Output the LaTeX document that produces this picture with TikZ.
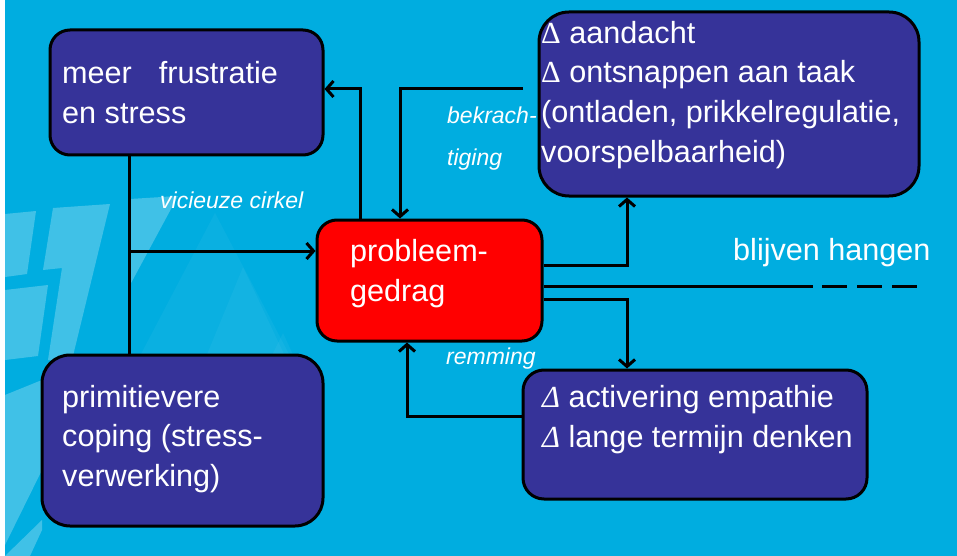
\documentclass[tikz,border=0pt]{standalone}
\usepackage{fontspec}
\setmainfont{Liberation Sans}
\newfontfamily\deltafont{Liberation Serif}
\usetikzlibrary{arrows.meta}

\definecolor{bgblue}{RGB}{0,173,224}
\definecolor{boxblue}{RGB}{54,51,153}
\definecolor{alarmred}{RGB}{255,0,0}

\tikzset{
  box/.style={draw=black, line width=3pt, rectangle, inner sep=0pt},
  bodytext/.style={text=white, align=left, inner sep=0pt, anchor=north west,
    font=\fontsize{30.6}{#1}\selectfont},
  bodytext/.default=40,
  sidelabel/.style={text=white, inner sep=0pt, anchor=base west,
    font=\fontsize{23}{28}\selectfont\itshape},
  link/.style={draw=black, line width=3pt},
  arr/.style={link, -{Straight Barb[length=7pt,width=16pt]}},
  streak/.style={fill=white, fill opacity=0.25, draw=none},
  peak/.style={fill=white, fill opacity=0.04, draw=none}
}

\begin{document}
\begin{tikzpicture}[x=1pt,y=-1pt]
\useasboundingbox (0,0) rectangle (957,556);
\fill[white] (0,0) rectangle (957,556);
\fill[bgblue] (5,0) rectangle (957,556);

% faint logo streaks in the lower left
\fill[streak] (5,214) -- (36,211) -- (27,274) -- (5,277) -- cycle;
\fill[streak] (53,208) -- (110,204) -- (72,360) -- (48,360) -- (62,268) -- (43,270) -- cycle;
\fill[streak] (130,199) -- (178,196) -- (130,285) -- cycle;
\fill[streak] (5,290) -- (48,285) -- (38,356) -- (5,360) -- cycle;
\fill[streak] (5,395) -- (42,380) -- (42,470) -- (5,545) -- cycle;
\fill[streak] (5,556) -- (30,556) -- (42,530) -- (42,520) -- cycle;
\fill[peak] (215,213) -- (290,356) -- (140,356) -- cycle;
\fill[peak] (243,267) -- (315,420) -- (180,420) -- cycle;
\fill[peak] (283,333) -- (323,420) -- (240,420) -- cycle;

% boxes
\node[box, fill=boxblue, rounded corners=20pt, minimum width=273pt, minimum height=125pt] (frus) at (186.5,92.5) {};
\node[box, fill=boxblue, rounded corners=30pt, minimum width=380pt, minimum height=184pt] (bekr) at (729,104) {};
\node[box, fill=alarmred, rounded corners=20pt, minimum width=225pt, minimum height=121pt] (prob) at (429.5,280.5) {};
\node[box, fill=boxblue, rounded corners=28pt, minimum width=281pt, minimum height=171pt] (prim) at (182.5,440.5) {};
\node[box, fill=boxblue, rounded corners=21pt, minimum width=344pt, minimum height=129pt] (remm) at (695,434.5) {};

% box texts (top = first baseline - 0.7 * line spacing)
\node[bodytext] (frus-t) at (62,55) {\strut meer\hspace{27pt}frustratie\\en stress};
\node[bodytext=39.7] (bekr-t) at (541,15.2) {\strut{\deltafont Δ} aandacht\\{\deltafont Δ} ontsnappen aan taak\\(ontladen, prikkelregulatie,\\voorspelbaarheid)};
\node[bodytext] (prob-t) at (350,233) {\strut probleem-\\gedrag};
\node[bodytext=39.5] (prim-t) at (62,379.35) {\strut primitievere\\coping (stress-\\verwerking)};
\node[bodytext] (remm-t) at (542,379) {\strut{\deltafont\itshape Δ} activering empathie\\{\deltafont\itshape Δ} lange termijn denken};

% labels
\node[sidelabel] (lab-vc) at (160,208) {vicieuze cirkel};
\node[sidelabel] (lab-b1) at (447,124) {bekrach-};
\node[sidelabel] (lab-b2) at (447,165) {tiging};
\node[sidelabel] (lab-rm) at (446,364) {remming};
\node[text=white, inner sep=0pt, anchor=base west, font=\fontsize{30.6}{36}\selectfont] (lab-bh) at (733,260) {blijven hangen};

% routing points
\coordinate (vx) at (129,0);
\coordinate (ya) at (0,251);
\coordinate (c1) at (360,89);
\coordinate (bfree) at (523,89);
\coordinate (c2) at (400,0);
\coordinate (c3) at (627,265);
\coordinate (d1) at (813,286);
\coordinate (d2) at (822,286);
\coordinate (d3) at (918,286);
\coordinate (c4) at (627,299);
\coordinate (c5) at (407,416);

% connectors
\draw[link] (frus.south -| vx) -- (prim.north -| vx);
\draw[arr] (vx |- ya) -- (prob.west |- ya);
\draw[arr] (prob.north -| c1) |- (frus.east |- c1);
\draw[arr] (bfree) -| (prob.north -| c2);
\draw[arr] (prob.east |- c3) -| (bekr.south -| c3);
\draw[link] (prob.east |- d1) -- (d1);
\draw[link, dash pattern=on 25pt off 10pt] (d2) -- (d3);
\draw[arr] (prob.east |- c4) -| (remm.north -| c4);
\draw[arr] (remm.west |- c5) -| (prob.south -| c5);
\end{tikzpicture}
\end{document}
